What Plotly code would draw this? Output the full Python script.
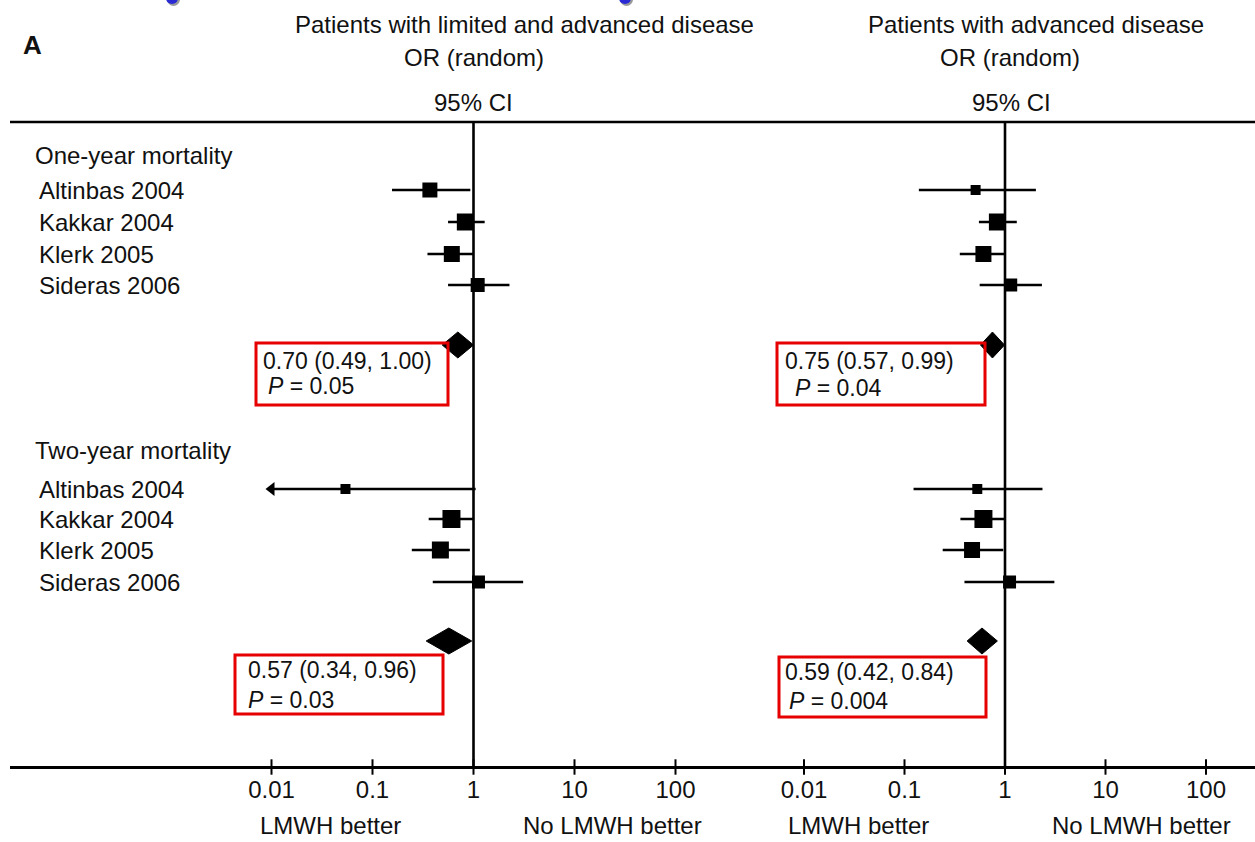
import plotly.graph_objects as go

W, H = 1255, 842

# ---------------- data ----------------
studies = ["Altinbas 2004", "Kakkar 2004", "Klerk 2005", "Sideras 2006"]
sections = ["One-year mortality", "Two-year mortality"]
panel_titles = ["Patients with limited and advanced disease", "Patients with advanced disease"]
tick_vals = [0.01, 0.1, 1, 10, 100]
tick_text = ["0.01", "0.1", "1", "10", "100"]
favours = ["LMWH better", "No LMWH better"]

# one-year, limited + advanced
or_1y_all = [0.37, 0.83, 0.61, 1.10]
lo_1y_all = [0.156, 0.56, 0.35, 0.56]
hi_1y_all = [0.93, 1.29, 0.99, 2.27]
# one-year, advanced only
or_1y_adv = [0.51, 0.84, 0.61, 1.14]
lo_1y_adv = [0.139, 0.55, 0.355, 0.56]
hi_1y_adv = [2.03, 1.31, 1.00, 2.33]
# two-year, limited + advanced
or_2y_all = [0.054, 0.605, 0.47, 1.12]
lo_2y_all = [0.004, 0.36, 0.245, 0.395]
hi_2y_all = [1.05, 1.00, 0.92, 3.1]
# two-year, advanced only
or_2y_adv = [0.53, 0.61, 0.47, 1.11]
lo_2y_adv = [0.123, 0.36, 0.24, 0.395]
hi_2y_adv = [2.36, 1.00, 0.96, 3.1]

# pooled estimates: OR, lower, upper, P
pooled_1y_all = [0.70, 0.49, 1.00]
pooled_1y_adv = [0.75, 0.57, 0.99]
pooled_2y_all = [0.57, 0.34, 0.96]
pooled_2y_adv = [0.59, 0.42, 0.84]
p_1y_all, p_1y_adv, p_2y_all, p_2y_adv = "0.05", "0.04", "0.03", "0.004"

# ---------------- styles / layout ----------------
FONT = "Liberation Sans, Arial, sans-serif"
FS = 24
BOX_FS = 23
TXT = "#111111"
size_1y_all = [15, 17, 16, 14]
size_1y_adv = [10, 17, 16, 13]
size_2y_all = [10, 18, 17, 13]
size_2y_adv = [10, 18, 16, 13]

rows_1y = [190, 222, 254, 285]
rows_2y = [489, 519, 550, 582]
head_y = [155, 450]
diam_y = [345, 641]
DIAM_H = 13
TOP_LINE = 122
AXIS_Y = 767
CLIP_LO = 0.01

# pixel geometry of the two log axes
L1, LD, LDOM = 473.5, 101.0, [10, 760]
R1, RD, RDOM = 1005.0, 100.5, [620, 1255]


def rng(dom, one, dec):
    return [(dom[0] - one) / dec, (dom[1] - one) / dec]


fig = go.Figure()


def add_panel(xa, ors, los, his, sizes, rows, pooled, dy):
    for o, lo, hi, s, y in zip(ors, los, his, sizes, rows):
        lo_c = max(lo, CLIP_LO)
        fig.add_trace(go.Scatter(x=[lo_c, hi], y=[y, y], mode="lines", xaxis=xa, yaxis="y",
                                 line=dict(color="black", width=2.6), showlegend=False, hoverinfo="skip"))
        if lo < CLIP_LO:
            fig.add_trace(go.Scatter(x=[lo_c], y=[y], mode="markers", xaxis=xa, yaxis="y",
                                     marker=dict(symbol="triangle-left", size=12, color="black", opacity=1),
                                     showlegend=False, cliponaxis=False, hoverinfo="skip"))
    fig.add_trace(go.Scatter(x=ors, y=rows, mode="markers", xaxis=xa, yaxis="y",
                             marker=dict(symbol="square", size=sizes, color="black", opacity=1,
                                         line=dict(width=0)),
                             showlegend=False))
    est, lo, hi = pooled
    fig.add_trace(go.Scatter(x=[lo, est, hi, est, lo], y=[dy, dy - DIAM_H, dy, dy + DIAM_H, dy],
                             mode="lines", fill="toself", fillcolor="black", xaxis=xa, yaxis="y",
                             line=dict(color="black", width=1), showlegend=False))


for xa in ["x", "x2"]:
    fig.add_trace(go.Scatter(x=[1, 1], y=[TOP_LINE, AXIS_Y], mode="lines", xaxis=xa, yaxis="y",
                             line=dict(color="black", width=2.6), showlegend=False, hoverinfo="skip"))
    fig.add_trace(go.Scatter(x=tick_vals, y=[AXIS_Y] * len(tick_vals), mode="markers", xaxis=xa, yaxis="y",
                             marker=dict(symbol="line-ns", size=11, opacity=1,
                                         line=dict(width=2, color="black")),
                             showlegend=False, cliponaxis=False, hoverinfo="skip"))

add_panel("x", or_1y_all, lo_1y_all, hi_1y_all, size_1y_all, rows_1y, pooled_1y_all, diam_y[0])
add_panel("x", or_2y_all, lo_2y_all, hi_2y_all, size_2y_all, rows_2y, pooled_2y_all, diam_y[1])
add_panel("x2", or_1y_adv, lo_1y_adv, hi_1y_adv, size_1y_adv, rows_1y, pooled_1y_adv, diam_y[0])
add_panel("x2", or_2y_adv, lo_2y_adv, hi_2y_adv, size_2y_adv, rows_2y, pooled_2y_adv, diam_y[1])

ann = []


def txt(x, y, s, anchor="left", size=FS, **kw):
    ann.append(dict(x=x / W, xref="paper", y=y, yref="y", text=s, showarrow=False, xanchor=anchor,
                    yanchor="middle", font=dict(family=FONT, size=size, color=TXT), **kw))


txt(32, 45, "<b>A</b>", "center", size=26)
txt(524, 24, panel_titles[0], "center")
txt(474, 57, "OR (random)", "center")
txt(474, 102, "95% CI", "center")
txt(1036, 24, panel_titles[1], "center")
txt(1010, 57, "OR (random)", "center")
txt(1011, 102, "95% CI", "center")

txt(33, head_y[0], sections[0])
txt(33, head_y[1], sections[1])
for name, y in zip(studies, rows_1y):
    txt(37, y, name)
for name, y in zip(studies, rows_2y):
    txt(37, y, name)

# favour labels
for cx, s in [(330, favours[0]), (612, favours[1]), (858, favours[0]), (1141, favours[1])]:
    ann.append(dict(x=cx / W, xref="paper", y=841, yref="y", text=s, showarrow=False, xanchor="center",
                    yanchor="bottom", font=dict(family=FONT, size=FS, color=TXT)))

# pooled result boxes
boxes = [
    (pooled_1y_all, p_1y_all, (256, 448, 343, 405), (261, 361), (266, 386)),
    (pooled_1y_adv, p_1y_adv, (777, 985, 343, 405), (783, 361), (793, 388)),
    (pooled_2y_all, p_2y_all, (235, 443, 655, 714), (246, 670), (246, 700)),
    (pooled_2y_adv, p_2y_adv, (779, 986, 657, 717), (783, 672), (787, 701)),
]
shapes = []
for pooled, p, (x0, x1, y0, y1), l1, l2 in boxes:
    shapes.append(dict(type="rect", xref="paper", yref="y", x0=x0 / W, x1=x1 / W, y0=y0, y1=y1,
                       line=dict(color="#e60000", width=3), fillcolor="rgba(0,0,0,0)"))
    txt(l1[0], l1[1], f"{pooled[0]:.2f} ({pooled[1]:.2f}, {pooled[2]:.2f})", size=BOX_FS)
    txt(l2[0], l2[1], f"<i>P</i> = {p}", size=BOX_FS)

# top rule
shapes.append(dict(type="line", xref="paper", yref="y", x0=10 / W, x1=1, y0=TOP_LINE, y1=TOP_LINE,
                   line=dict(color="black", width=2.6)))
# small blue artefact dots at top edge
for cx in [173, 626]:
    shapes.append(dict(type="circle", xref="paper", yref="y", x0=(cx - 6) / W, x1=(cx + 7) / W,
                       y0=-7, y1=6, fillcolor="#9a9a9a", line=dict(width=0)))
    shapes.append(dict(type="circle", xref="paper", yref="y", x0=(cx - 7) / W, x1=(cx + 5) / W,
                       y0=-8, y1=4, fillcolor="#2b2bd6", line=dict(width=0)))

axis_common = dict(type="log", anchor="free", position=(H - AXIS_Y) / H, showline=True, linecolor="black",
                   linewidth=2.6, ticks="", tickvals=tick_vals, ticktext=tick_text,
                   showgrid=False, zeroline=False,
                   tickfont=dict(family=FONT, size=FS, color=TXT), fixedrange=True)

fig.update_layout(
    width=W, height=H, margin=dict(l=0, r=0, t=0, b=0),
    paper_bgcolor="white", plot_bgcolor="rgba(0,0,0,0)",
    xaxis=dict(domain=[LDOM[0] / W, LDOM[1] / W], range=rng(LDOM, L1, LD), **axis_common),
    xaxis2=dict(domain=[RDOM[0] / W, RDOM[1] / W], range=rng(RDOM, R1, RD), **axis_common),
    yaxis=dict(domain=[0, 1], range=[H, 0], visible=False, fixedrange=True),
    annotations=ann, shapes=shapes, showlegend=False,
)

fig.write_html("out.html")
